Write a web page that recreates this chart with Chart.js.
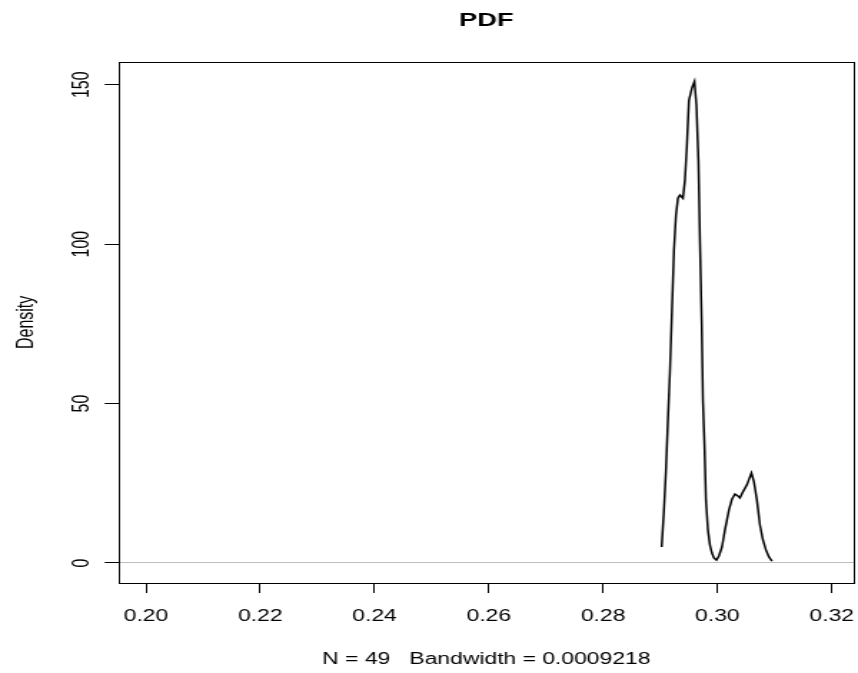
<!DOCTYPE html>
<html lang="en">
<head>
  <meta charset="UTF-8" />
  <title>PDF</title>
  <script src="https://cdn.jsdelivr.net/npm/chart.js"></script>
  <style>
    html, body {
      margin: 0;
      padding: 0;
      background: #fff;
      overflow: hidden;
    }
    /* plot is laid out at 600px wide and stretched to fill the window */
    .wrap {
      width: 600px;
      height: 673px;
      transform: scale(1.43, 1);
      transform-origin: 0 0;
    }
  </style>
</head>
<body>
  <div class="wrap">
    <canvas id="pdfChart"></canvas>
  </div>

  <script>
    // kernel density estimate, x and density
    const densityX = [
      0.29024, 0.29064, 0.29099, 0.29134, 0.29169, 0.29204, 0.29239, 0.29274,
      0.29309, 0.29344, 0.29396, 0.29431, 0.29466, 0.29501, 0.29554, 0.29598,
      0.29633, 0.29668, 0.29694, 0.29724, 0.29746, 0.29773, 0.29799, 0.29834,
      0.29869, 0.29904, 0.29939, 0.29983, 0.30026, 0.30079, 0.30131, 0.30201,
      0.30254, 0.30306, 0.30359, 0.30394, 0.30446, 0.30516, 0.30595, 0.30639,
      0.30691, 0.30744, 0.30796, 0.30849, 0.30901, 0.30954
    ];
    const densityY = [
      5.0, 16.6, 29.0, 45.0, 60.0, 79.0, 98.0, 109.0,
      114.4, 115.4, 114.4, 120.0, 131.0, 145.0, 149.0, 151.0,
      143.6, 126.0, 101.0, 76.0, 51.0, 37.0, 19.7, 10.3,
      5.6, 3.1, 1.6, 0.9, 2.2, 5.0, 10.3, 16.6,
      20.0, 21.6, 21.0, 20.4, 22.3, 24.5, 28.2, 25.4,
      19.7, 11.9, 7.2, 4.1, 1.9, 0.6
    ];

    const xTicks = [0.20, 0.22, 0.24, 0.26, 0.28, 0.30, 0.32];
    const yTicks = [0, 50, 100, 150];
    const xRange = [0.19528, 0.32385];
    const yRange = [-6.29, 157.2];

    const mainTitle = 'PDF';
    const xTitle = 'N = 49   Bandwidth = 0.0009218';
    const yTitle = 'Density';

    const FONT = '"Liberation Sans", Arial, sans-serif';

    // frame around the plotting region
    const boxPlugin = {
      id: 'plotBox',
      afterDraw(chart) {
        const { ctx, chartArea: a } = chart;
        ctx.save();
        ctx.strokeStyle = '#000';
        ctx.lineWidth = 1;
        ctx.strokeRect(Math.round(a.left) + 0.5, Math.round(a.top) + 0.5,
          Math.round(a.right - a.left), Math.round(a.bottom - a.top));
        ctx.restore();
      }
    };

    const ctx = document.getElementById('pdfChart').getContext('2d');
    new Chart(ctx, {
      type: 'line',
      data: {
        datasets: [{
          data: densityX.map((x, i) => ({ x, y: densityY[i] })),
          borderColor: '#000',
          borderWidth: 1.5,
          pointRadius: 0,
          tension: 0,
          fill: false
        }]
      },
      options: {
        animation: false,
        responsive: true,
        maintainAspectRatio: false,
        layout: { padding: { top: 0, right: 3, bottom: 0, left: 0 } },
        plugins: {
          legend: { display: false },
          tooltip: { enabled: false },
          title: {
            display: true,
            text: mainTitle,
            fullSize: false,
            color: '#000',
            font: { family: FONT, size: 19, weight: 'bold', lineHeight: 1.2 },
            padding: { top: 9, bottom: 30 }
          }
        },
        scales: {
          x: {
            type: 'linear',
            min: xRange[0],
            max: xRange[1],
            afterBuildTicks: s => { s.ticks = xTicks.map(v => ({ value: v })); },
            afterFit: s => {
              s.height = 90;
              // labels may hang past the frame, no extra room needed
              s.paddingLeft = 0;
              s.paddingRight = 0;
            },
            border: { display: false },
            grid: {
              drawOnChartArea: false,
              tickLength: 10,
              tickColor: '#000',
              tickWidth: 1
            },
            ticks: {
              color: '#000',
              padding: 14,
              maxRotation: 0,
              font: { family: FONT, size: 16 },
              callback: v => Number(v).toFixed(2)
            },
            title: {
              display: true,
              text: xTitle,
              color: '#000',
              font: { family: FONT, size: 16, lineHeight: 1.2 },
              padding: { top: 0, bottom: 4 }
            }
          },
          y: {
            min: yRange[0],
            max: yRange[1],
            afterBuildTicks: s => { s.ticks = yTicks.map(v => ({ value: v })); },
            afterFit: s => {
              s.width = 83.2;
              s.paddingTop = 0;
              s.paddingBottom = 0;
            },
            border: { display: false },
            grid: {
              // only the zero reference line is drawn inside the plot
              color: c => (c.tick && c.tick.value === 0 ? '#bebebe' : 'rgba(0,0,0,0)'),
              lineWidth: 1,
              tickLength: 10,
              tickColor: '#000',
              tickWidth: 1
            },
            ticks: {
              color: '#000',
              padding: 2,
              minRotation: 90,
              maxRotation: 90,
              crossAlign: 'center',
              font: { family: FONT, size: 16 },
              callback: v => String(v)
            },
            title: {
              display: true,
              text: yTitle,
              color: '#000',
              font: { family: FONT, size: 16, lineHeight: 1.2 },
              padding: { top: 9, bottom: 0 }
            }
          }
        }
      },
      plugins: [boxPlugin]
    });
  </script>
</body>
</html>
